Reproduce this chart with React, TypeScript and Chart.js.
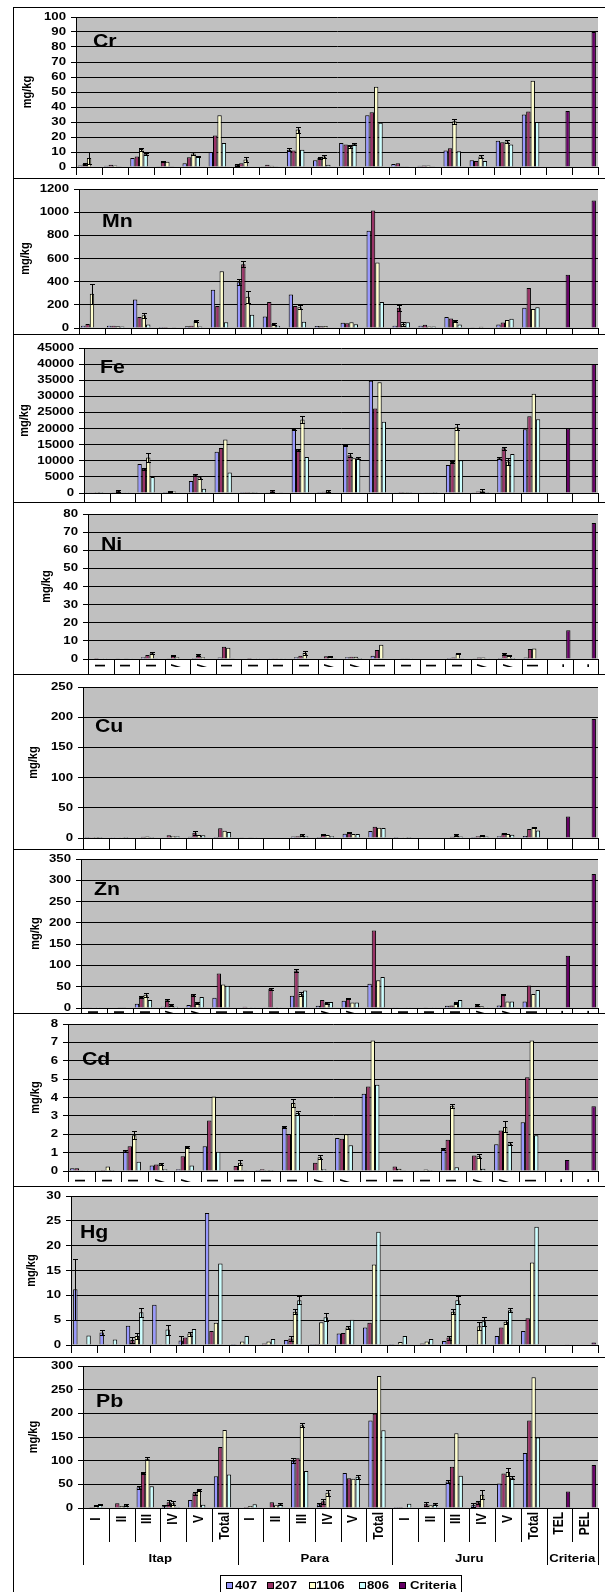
import React, { useEffect, useRef } from "react";
import { Chart, registerables } from "chart.js";
Chart.register(...registerables);

const FONT = '"Liberation Sans", Arial, Helvetica, sans-serif';
const SX = 1.2;

// ---------- categories / series ----------
const categories = ["I", "II", "III", "IV", "V", "Total", "I", "II", "III", "IV", "V", "Total", "I", "II", "III", "IV", "V", "Total", "TEL", "PEL"];
const groupNames = ["Itap", "Para", "Juru", "Criteria"];
const groupSizes = [6, 6, 6, 2];
const seriesNames = ["407", "207", "1106", "806", "Criteria"];
const seriesColors = ["#9999FF", "#993366", "#FFFFCC", "#CCFFFF", "#660066"];

// ---------- Cr ----------
const cr407 = [1, 0.8, 6, 0.5, 2.5, 10, 1.5, 0.5, 11.5, 4.5, 16, 34.5, 2, 0.8, 11, 4.5, 17.5, 35];
const cr207 = [2, 1.5, 7, 3.5, 6.5, 21, 2.5, 1.5, 11, 6, 15, 36.5, 2.5, 1, 12.5, 4, 16.5, 37];
const cr1106 = [6, 1, 12, 3.5, 9, 34.5, 5, 0.8, 25, 7, 14, 53.5, 0.5, 1, 30.5, 7, 17, 57.5];
const cr806 = [0, 0.5, 8.5, 0.5, 7, 16, 0.3, 0.5, 11.5, 1.5, 15.5, 29.5, 0.2, 0.5, 10.5, 4, 15, 30];
const crCriteria = [37.3, 90];
const crErr = [[0, 2, 3.8], [0, 1, 0.4], [2, 2, 1], [2, 3, 0.8], [3, 1, 0.3], [4, 2, 1], [4, 3, 0.5], [6, 2, 1.5], [6, 0, 0.5], [8, 0, 1], [8, 2, 2], [9, 2, 1], [9, 1, 0.5], [10, 2, 1], [10, 3, 0.8], [14, 2, 1.8], [15, 2, 1.2], [16, 2, 0.8]];

// ---------- Mn ----------
const mn407 = [20, 20, 245, 8, 15, 330, 395, 100, 290, 18, 45, 840, 20, 20, 95, 3, 30, 175];
const mn207 = [35, 20, 95, 8, 20, 190, 550, 225, 190, 15, 42, 1015, 175, 28, 82, 5, 48, 345];
const mn1106 = [295, 15, 110, 5, 60, 490, 270, 35, 180, 18, 50, 565, 35, 12, 60, 10, 68, 165];
const mn806 = [5, 12, 30, 3, 12, 50, 115, 20, 55, 4, 32, 225, 50, 12, 30, 5, 80, 180];
const mnCriteria = [460, 1100];
const mnErr = [[0, 2, 85], [2, 2, 20], [4, 2, 8], [6, 0, 25], [6, 1, 25], [6, 2, 50], [7, 2, 8], [8, 2, 15], [12, 1, 25], [12, 2, 15], [14, 2, 8]];

// ---------- Fe ----------
const fe407 = [50, 100, 9000, 300, 3700, 12800, 30, 100, 19900, 300, 14700, 34800, 50, 50, 8700, 100, 10800, 19800];
const fe207 = [50, 600, 7500, 400, 5700, 14000, 30, 700, 13400, 350, 11700, 26200, 30, 100, 9600, 500, 13900, 23800];
const fe1106 = [30, 150, 11000, 500, 4900, 16600, 20, 150, 22800, 700, 10800, 34400, 20, 100, 20400, 700, 9800, 30800];
const fe806 = [20, 50, 5000, 150, 1300, 6400, 10, 100, 11200, 150, 10800, 22100, 20, 300, 10200, 300, 12100, 22900];
const feCriteria = [20000, 40000];
const feErr = [[1, 1, 300], [2, 2, 1300], [2, 1, 300], [3, 1, 150], [4, 2, 500], [4, 1, 300], [7, 1, 300], [8, 2, 1100], [8, 1, 400], [8, 0, 200], [9, 2, 300], [10, 1, 600], [10, 0, 200], [10, 3, 300], [14, 2, 1000], [14, 1, 300], [15, 2, 400], [16, 2, 1000], [16, 1, 400], [16, 0, 300]];

// ---------- Ni ----------
const ni407 = [0.3, 0.2, 1, 0.2, 0.5, 0.8, 0.3, 0.1, 1, 0.3, 1, 1.8, 0.3, 0, 0.5, 0.2, 0.5, 0.8];
const ni207 = [0.5, 0.3, 2.2, 1.7, 2.2, 6.8, 0.5, 0.1, 1.8, 1.5, 1.3, 5, 0.4, 0, 0.8, 0.8, 2.8, 5.5];
const ni1106 = [0.3, 0.2, 3.2, 1, 1, 6.2, 0.3, 0.1, 3.3, 1.5, 1.2, 7.8, 0.2, 0, 3, 0.8, 1.8, 5.8];
const ni806 = [0.1, 0.1, 0.2, 0.3, 0.3, 0.2, 0.1, 0.1, 0.3, 0.2, 0.5, 0.3, 0.1, 0, 0.2, 0.1, 0.5, 0.3];
const niCriteria = [15.9, 75];
const niErr = [[2, 2, 0.4], [3, 1, 0.3], [4, 1, 0.4], [8, 2, 1.2], [9, 2, 0.4], [14, 2, 0.3], [16, 1, 0.5], [16, 2, 0.4]];

// ---------- Cu ----------
const cu407 = [0.2, 0.3, 1, 1, 2, 1.5, 0.5, 0, 2.5, 1.5, 7, 11.5, 0.2, 0, 1, 1.5, 3, 3.5];
const cu207 = [0.3, 1, 2, 4.5, 8.5, 16, 0.8, 0, 3, 5.5, 8.5, 18.5, 0.8, 0, 2, 3, 8, 15];
const cu1106 = [0.2, 0.3, 2.5, 3, 5, 12, 0.5, 0, 5.5, 5, 6.5, 17, 0.3, 0, 5, 4.5, 6.5, 18];
const cu806 = [0.1, 0.2, 1.5, 3, 4.5, 10, 0.3, 0, 3, 3, 6.5, 16.5, 0.2, 0, 2.5, 2.5, 5.5, 12.5];
const cuCriteria = [35.7, 197];
const cuErr = [[4, 1, 3], [8, 2, 1.5], [9, 1, 1], [10, 1, 1], [14, 2, 1.5], [15, 2, 1.2], [16, 1, 1], [17, 2, 1]];

// ---------- Zn ----------
const zn407 = [0.5, 1, 10, 3, 7, 24, 1, 2, 29, 5, 17, 57, 0.5, 1, 5, 2, 6, 15];
const zn207 = [2, 1, 26, 18, 31, 81, 3, 45, 88, 19, 22, 182, 1, 1.5, 6, 7, 32, 53];
const zn1106 = [1, 1.5, 31, 7, 12, 55, 2, 2, 33, 12, 13, 65, 1, 1, 12, 4, 15, 33];
const zn806 = [0.5, 1.5, 19, 3, 26, 52, 0.5, 2, 41, 14, 13, 73, 0.5, 0.5, 19, 2, 15, 42];
const znCriteria = [123, 315];
const znErr = [[2, 2, 4], [2, 1, 2], [3, 1, 2], [3, 2, 3], [4, 1, 2], [4, 2, 3], [7, 1, 2], [8, 1, 3], [8, 2, 4], [9, 2, 3], [10, 1, 2], [14, 2, 3], [15, 1, 2], [16, 1, 2]];

// ---------- Cd ----------
const cd407 = [0.15, 0.02, 1.1, 0.3, 0.1, 1.35, 0.02, 0.05, 2.4, 0.02, 1.8, 4.2, 0.02, 0.02, 1.2, 0.02, 1.45, 2.65];
const cd207 = [0.15, 0.05, 1.35, 0.35, 0.8, 2.75, 0.27, 0.1, 2.0, 0.45, 1.75, 4.6, 0.25, 0.03, 1.7, 0.85, 2.2, 5.1];
const cd1106 = [0.02, 0.25, 1.95, 0.4, 1.3, 4.05, 0.45, 0.05, 3.7, 0.75, 2.0, 7.1, 0.12, 0.08, 3.55, 0.8, 2.4, 7.1];
const cd806 = [0.01, 0.05, 0.5, 0.1, 0.3, 1.05, 0.02, 0.05, 3.15, 0.1, 1.4, 4.7, 0.02, 0.05, 0.2, 0.12, 1.5, 1.95];
const cdCriteria = [0.6, 3.53];
const cdErr = [[2, 2, 0.2], [2, 0, 0.05], [3, 2, 0.05], [4, 2, 0.05], [6, 2, 0.15], [8, 2, 0.2], [8, 3, 0.1], [8, 0, 0.05], [9, 2, 0.12], [14, 2, 0.1], [14, 0, 0.05], [15, 2, 0.1], [16, 2, 0.3], [16, 3, 0.1]];

// ---------- Hg ----------
const hg407 = [11.2, 2.5, 3.9, 8.1, 0.9, 26.6, 0.02, 0.1, 1, 0.2, 2.3, 3.5, 0.02, 0.1, 0.8, 0.05, 1.8, 2.8];
const hg207 = [0.1, 0.05, 1.0, 0.05, 1.5, 2.8, 0.05, 0.3, 1.3, 0.2, 2.4, 4.5, 0.05, 0.3, 1.5, 0.05, 3.5, 5.4];
const hg1106 = [0.1, 0.05, 1.8, 0.05, 2.3, 4.5, 0.7, 0.7, 6.7, 4.6, 3.5, 16.2, 0.6, 0.7, 6.7, 3.8, 4.7, 16.6];
const hg806 = [1.9, 1.1, 6.6, 3.1, 3.2, 16.4, 1.8, 1.2, 9, 5.6, 5.1, 22.8, 1.8, 1.2, 9, 4.8, 7, 23.8];
const hgCriteria = [0.174, 0.486];
const hgErr = [[0, 0, 6.1], [1, 0, 0.5], [2, 1, 0.6], [2, 2, 0.6], [2, 3, 0.9], [3, 3, 1], [4, 0, 0.9], [4, 2, 0.4], [8, 1, 0.5], [8, 2, 0.5], [8, 3, 0.8], [9, 3, 0.8], [10, 2, 0.3], [14, 1, 0.4], [14, 2, 0.5], [14, 3, 0.8], [15, 2, 0.8], [15, 3, 0.9], [16, 2, 0.4], [16, 3, 0.4]];

// ---------- Pb ----------
const pb407 = [1, 1, 44, 4, 17, 67, 1, 1, 100, 8, 74, 185, 2, 1, 56, 7, 52, 116];
const pb207 = [2, 10, 74, 12, 31, 129, 2, 12, 105, 14, 63, 199, 2, 9, 87, 12, 73, 185];
const pb1106 = [6, 4, 104, 10, 38, 165, 4, 6, 175, 32, 62, 279, 1, 6, 158, 28, 76, 276];
const pb806 = [7, 7, 46, 2, 7, 71, 8, 8, 78, 0, 66, 164, 9, 8, 68, 0, 64, 149];
const pbCriteria = [35, 91];
const pbErr = [[0, 2, 1], [0, 3, 1], [1, 3, 2], [2, 0, 3], [2, 1, 3], [2, 2, 3], [3, 0, 3], [3, 1, 5], [3, 2, 4], [4, 1, 3], [4, 2, 2], [7, 3, 2], [8, 0, 5], [8, 2, 4], [9, 0, 3], [9, 1, 6], [9, 2, 7], [10, 3, 4], [13, 1, 4], [13, 3, 2], [14, 0, 4], [15, 0, 4], [15, 1, 3], [15, 2, 10], [16, 2, 9], [16, 3, 3]];

// ---------- layout (page coordinates) ----------
type Layout = {
  name: string; top: number; plotTop: number; zero: number; axisX: number; next: number;
  max: number; step: number; labelOff: number | null; tick: number; yTitleX: number;
  titleX: number; titleBase: number; last?: boolean;
};
const LAYOUT: Layout[] = [
  { name: "Cr", top: 7, plotTop: 17, zero: 167, axisX: 76, next: 178, max: 100, step: 10, labelOff: null, tick: 8, yTitleX: 28, titleX: 93, titleBase: 47 },
  { name: "Mn", top: 178, plotTop: 189, zero: 328, axisX: 79, next: 334, max: 1200, step: 200, labelOff: null, tick: 34, yTitleX: 26, titleX: 102, titleBase: 227 },
  { name: "Fe", top: 334, plotTop: 348, zero: 493, axisX: 84, next: 502, max: 45000, step: 5000, labelOff: null, tick: 34, yTitleX: 25, titleX: 100, titleBase: 373 },
  { name: "Ni", top: 502, plotTop: 514, zero: 659, axisX: 88, next: 674, max: 80, step: 10, labelOff: 5, tick: 34, yTitleX: 47, titleX: 101, titleBase: 550 },
  { name: "Cu", top: 674, plotTop: 687, zero: 838, axisX: 83, next: 849, max: 250, step: 50, labelOff: null, tick: 34, yTitleX: 34, titleX: 95, titleBase: 732 },
  { name: "Zn", top: 849, plotTop: 859, zero: 1008, axisX: 81, next: 1013, max: 350, step: 50, labelOff: 2.5, tick: 34, yTitleX: 36, titleX: 94, titleBase: 895 },
  { name: "Cd", top: 1013, plotTop: 1024, zero: 1171, axisX: 68, next: 1186, max: 8, step: 1, labelOff: 8, tick: 11, yTitleX: 36, titleX: 82, titleBase: 1065 },
  { name: "Hg", top: 1186, plotTop: 1196, zero: 1345, axisX: 71, next: 1357, max: 30, step: 5, labelOff: null, tick: 8, yTitleX: 32, titleX: 80, titleBase: 1238 },
  { name: "Pb", top: 1357, plotTop: 1366, zero: 1508, axisX: 83, next: 1592, max: 300, step: 50, labelOff: 4, tick: 34, yTitleX: 34, titleX: 96, titleBase: 1407, last: true },
];
const PLOT_RIGHT = 598;
const PAGE_W = 605;
const PAGE_H = 1592;
const LABEL_PEEK = 3; // visible sliver of clipped category labels in upper panels
const LEGEND_BOX = { left: 220, right: 461, top: 1575 };
const LEGEND_SQ = [226, 267, 309, 359, 399];
const LEGEND_TX = [235, 275, 316, 367, 410];

const PANEL_DATA = [
  { s: [cr407, cr207, cr1106, cr806], crit: crCriteria, err: crErr },
  { s: [mn407, mn207, mn1106, mn806], crit: mnCriteria, err: mnErr },
  { s: [fe407, fe207, fe1106, fe806], crit: feCriteria, err: feErr },
  { s: [ni407, ni207, ni1106, ni806], crit: niCriteria, err: niErr },
  { s: [cu407, cu207, cu1106, cu806], crit: cuCriteria, err: cuErr },
  { s: [zn407, zn207, zn1106, zn806], crit: znCriteria, err: znErr },
  { s: [cd407, cd207, cd1106, cd806], crit: cdCriteria, err: cdErr },
  { s: [hg407, hg207, hg1106, hg806], crit: hgCriteria, err: hgErr },
  { s: [pb407, pb207, pb1106, pb806], crit: pbCriteria, err: pbErr },
];

function txt(ctx: CanvasRenderingContext2D, text: string, x: number, y: number, font: string, align: CanvasTextAlign, baseline: CanvasTextBaseline, sx: number, rotate = false) {
  ctx.save();
  ctx.translate(x, y);
  ctx.scale(sx, 1);
  if (rotate) ctx.rotate(-Math.PI / 2);
  ctx.font = font;
  ctx.textAlign = align;
  ctx.textBaseline = baseline;
  ctx.fillStyle = "#000";
  ctx.fillText(text, 0, 0);
  ctx.restore();
}

function Panel({ lay, data }: { lay: Layout; data: any }) {
  const ref = useRef<HTMLCanvasElement>(null);
  const offX = 14;
  const offY = lay.top + 1;
  const W = PAGE_W - offX;
  const H = lay.last ? PAGE_H - offY : lay.zero - offY + 60;

  useEffect(() => {
    const canvas = ref.current!;
    const series: (number | null)[][] = data.s.map((a: number[]) => [...a, null, null]);
    const critData: (number | null)[] = categories.map((_, i) => (i >= 18 ? data.crit[i - 18] : null));
    const all = [...series, critData];

    const bg = {
      id: "bg",
      beforeDraw(chart: any) {
        const { ctx, chartArea: ca } = chart;
        ctx.save();
        ctx.fillStyle = "#C0C0C0";
        ctx.fillRect(ca.left, ca.top, ca.right - ca.left, ca.bottom - ca.top);
        ctx.restore();
      },
    };

    const errBars = {
      id: "errBars",
      afterDatasetsDraw(chart: any) {
        const ctx = chart.ctx;
        const ys = chart.scales.y;
        ctx.save();
        ctx.strokeStyle = "#000";
        ctx.lineWidth = 1;
        data.err.forEach(([c, s, e]: number[]) => {
          const el: any = chart.getDatasetMeta(s).data[c];
          const v = all[s][c] as number;
          if (!el || v == null) return;
          const x = Math.round(el.x) + 0.5;
          const y1 = Math.round(ys.getPixelForValue(Math.min(lay.max, v + e))) + 0.5;
          const y2 = Math.round(ys.getPixelForValue(Math.max(0, v - e))) + 0.5;
          const hw = 2.5;
          ctx.beginPath();
          ctx.moveTo(x, y1); ctx.lineTo(x, y2);
          ctx.moveTo(x - hw, y1); ctx.lineTo(x + hw, y1);
          ctx.moveTo(x - hw, y2); ctx.lineTo(x + hw, y2);
          ctx.stroke();
        });
        ctx.restore();
      },
    };

    const deco = {
      id: "deco",
      afterDraw(chart: any) {
        const ctx: CanvasRenderingContext2D = chart.ctx;
        const ca = chart.chartArea;
        const ys = chart.scales.y;
        const n = categories.length;
        const cw = (ca.right - ca.left) / n;
        ctx.save();
        ctx.strokeStyle = "#000";
        ctx.lineWidth = 1;
        const groupEdges = new Set<number>([0]);
        let acc = 0;
        groupSizes.forEach((g) => { acc += g; groupEdges.add(acc); });
        for (let i = 0; i <= n; i++) {
          const x = Math.round(ca.left + i * cw) + 0.5;
          const len = lay.last && groupEdges.has(i) ? 57 : lay.tick;
          ctx.beginPath();
          ctx.moveTo(x, ca.bottom);
          ctx.lineTo(x, ca.bottom + len);
          ctx.stroke();
        }
        ctx.restore();

        // category labels
        if (lay.labelOff != null) {
          const f = `bold 12px ${FONT}`;
          ctx.save();
          if (!lay.last) {
            ctx.beginPath();
            ctx.rect(ca.left, ca.bottom + lay.labelOff, ca.right - ca.left, LABEL_PEEK);
            ctx.clip();
          }
          ctx.font = f;
          for (let i = 0; i < n; i++) {
            const cx = ca.left + (i + 0.5) * cw;
            const w = ctx.measureText(categories[i]).width;
            const top = lay.last ? Math.max(4, 11 - w / 2) : lay.labelOff;
            txt(ctx, categories[i], cx, ca.bottom + top, f, "right", "middle", SX, true);
          }
          ctx.restore();
        }
        // group labels + legend
        if (lay.last) {
          const gf = `bold 11px ${FONT}`;
          let start = 0;
          groupSizes.forEach((g, gi) => {
            const cx = ca.left + (start + g / 2) * cw;
            txt(ctx, groupNames[gi], cx, ca.bottom + 51, gf, "center", "middle", SX);
            start += g;
          });
          ctx.save();
          ctx.strokeStyle = "#000";
          ctx.lineWidth = 1;
          ctx.strokeRect(LEGEND_BOX.left - offX + 0.5, LEGEND_BOX.top - offY + 0.5, LEGEND_BOX.right - LEGEND_BOX.left, 30);
          seriesNames.forEach((nm, k) => {
            const sx = LEGEND_SQ[k] - offX;
            const sy = 1582 - offY;
            ctx.fillStyle = seriesColors[k];
            ctx.fillRect(sx, sy, 7, 7);
            ctx.strokeRect(sx + 0.5, sy + 0.5, 6, 6);
            txt(ctx, nm, LEGEND_TX[k] - offX, 1586 - offY, gf, "left", "middle", SX);
          });
          ctx.restore();
        }

        // y tick labels
        const tf = `bold 11px ${FONT}`;
        for (let v = 0; v <= lay.max + 1e-9; v += lay.step) {
          txt(ctx, String(v), ca.left - 10, ys.getPixelForValue(v), tf, "right", "middle", SX);
        }
        // y axis title
        txt(ctx, "mg/kg", lay.yTitleX - offX, (lay.plotTop + lay.zero) / 2 - offY, `bold 11px ${FONT}`, "center", "middle", 1.1, true);
        // panel title
        txt(ctx, lay.name, lay.titleX - offX, lay.titleBase - offY, `bold 19px ${FONT}`, "left", "alphabetic", 1.12);
      },
    };

    const chart = new Chart(canvas, {
      type: "bar",
      data: {
        labels: categories,
        datasets: all.map((d, k) => ({
          label: seriesNames[k],
          data: d,
          backgroundColor: seriesColors[k],
          borderColor: "#000",
          borderWidth: 1,
        })),
      },
      options: {
        responsive: false,
        animation: false,
        devicePixelRatio: 1,
        layout: { padding: { top: lay.plotTop - offY, right: W - (PLOT_RIGHT - offX), left: 0, bottom: 0 } },
        datasets: { bar: { categoryPercentage: 0.84, barPercentage: 1 } },
        plugins: { legend: { display: false }, tooltip: { enabled: false }, title: { display: false } },
        scales: {
          x: {
            type: "category",
            grid: { display: false },
            border: { display: false },
            ticks: { display: false },
            afterFit: (s: any) => { s.height = H - (lay.zero - offY); },
          },
          y: {
            min: 0,
            max: lay.max,
            ticks: { stepSize: lay.step, display: false },
            grid: { color: "#000", lineWidth: 1, tickLength: 5, drawTicks: true },
            border: { color: "#000", width: 1 },
            afterFit: (s: any) => { s.width = lay.axisX - offX; },
          },
        },
      } as any,
      plugins: [bg, errBars, deco],
    });
    return () => chart.destroy();
  }, []);

  return (
    <div
      style={{
        position: "absolute",
        left: 13,
        top: lay.top,
        width: PAGE_W - 13,
        height: lay.next - lay.top,
        borderTop: "1px solid #000",
        borderLeft: "1px solid #000",
        boxSizing: "border-box",
        overflow: "hidden",
        background: "#fff",
      }}
    >
      <canvas ref={ref} width={W} height={H} style={{ display: "block", position: "absolute", left: 0, top: 0 }} />
    </div>
  );
}

export default function App() {
  return (
    <div style={{ position: "absolute", left: 0, top: 0, width: PAGE_W, height: PAGE_H, background: "#fff", overflow: "hidden" }}>
      {LAYOUT.map((lay, i) => (
        <Panel key={lay.name} lay={lay} data={PANEL_DATA[i]} />
      ))}
    </div>
  );
}
